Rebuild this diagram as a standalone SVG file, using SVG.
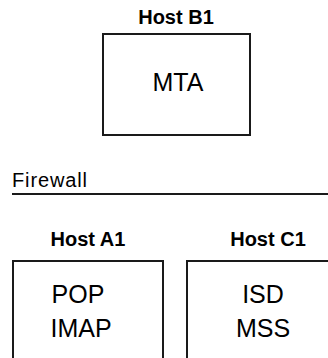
<svg xmlns="http://www.w3.org/2000/svg" width="328" height="358" viewBox="0 0 328 358">
<style>
.box{fill:#fff;stroke:#1a1a1a;stroke-width:2}
.lbl{font-family:"Liberation Sans",Arial,sans-serif;font-weight:bold;font-size:20px;fill:#000;text-anchor:middle}
.txt{font-family:"Liberation Sans",Arial,sans-serif;font-size:25px;fill:#000;text-anchor:middle}
.fw{font-family:"Liberation Sans",Arial,sans-serif;font-size:20px;fill:#000}
</style>
<rect width="328" height="358" fill="#fff"/>
<g id="hostB1">
<text class="lbl" x="176" y="24">Host B1</text>
<rect class="box" x="103" y="34" width="147" height="101"/>
<text class="txt" x="178" y="91">MTA</text>
</g>
<g id="firewall">
<text class="fw" x="12" y="187" textLength="75">Firewall</text>
<line x1="12" y1="194" x2="328" y2="194" stroke="#1a1a1a" stroke-width="2"/>
</g>
<g id="hostA1">
<text class="lbl" x="88" y="246">Host A1</text>
<rect class="box" x="13" y="261" width="150" height="110"/>
<text class="txt" x="78" y="303">POP</text>
<text class="txt" x="81" y="337">IMAP</text>
</g>
<g id="hostC1">
<text class="lbl" x="268" y="246">Host C1</text>
<rect class="box" x="187" y="261" width="160" height="110"/>
<text class="txt" x="263" y="303">ISD</text>
<text class="txt" x="263" y="337">MSS</text>
</g>
<g id="connectors"/>
</svg>
